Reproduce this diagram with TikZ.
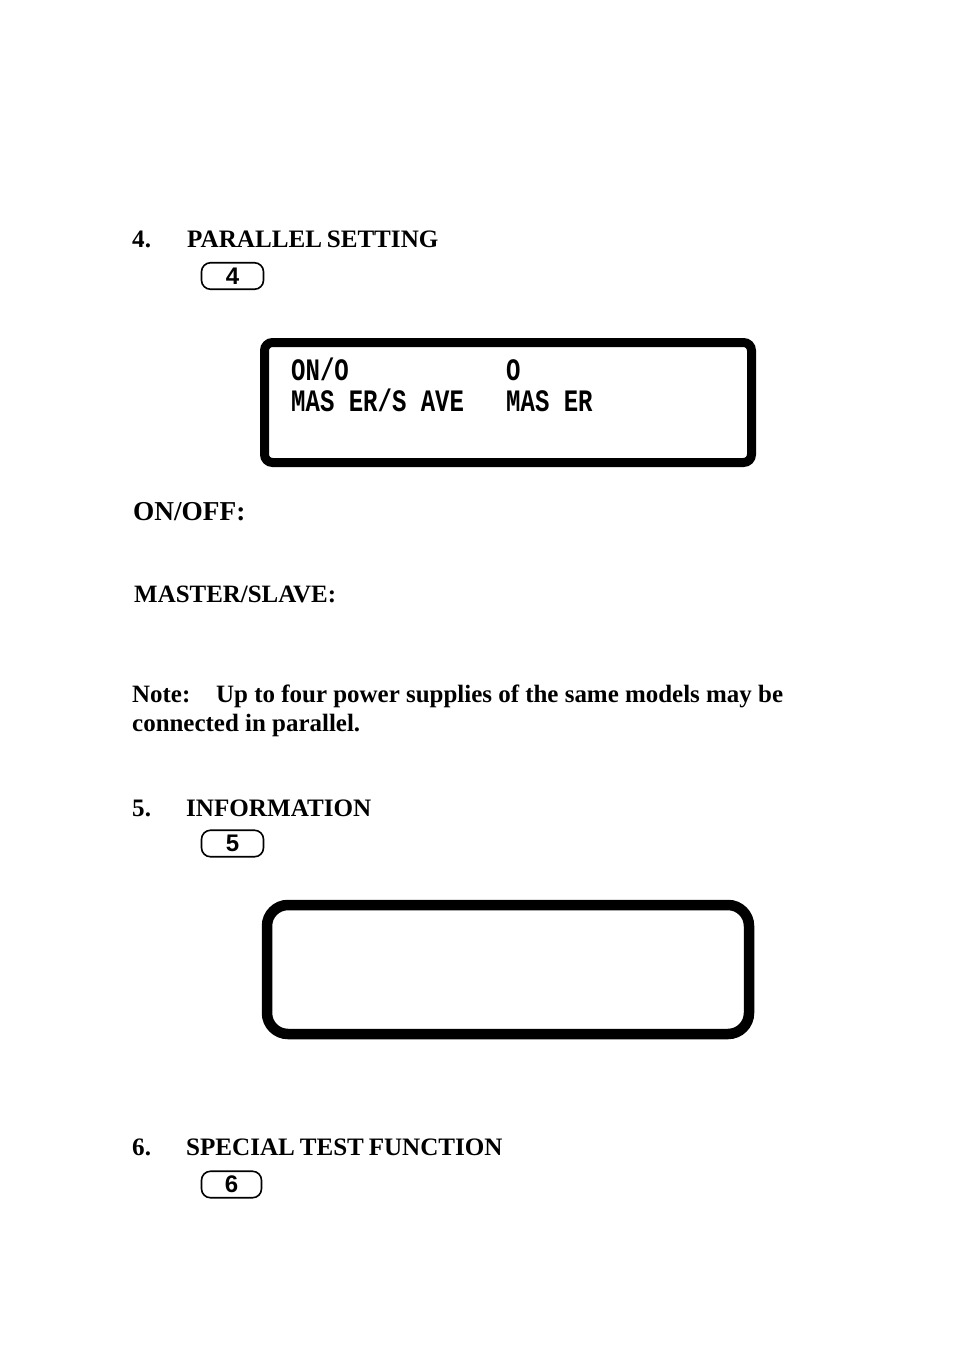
\documentclass[tikz,border=0pt]{standalone}
\usepackage{fontspec}
\setmainfont{Liberation Serif}
\newfontfamily\keyfont{Liberation Sans}
\newfontfamily\lcdfont{Liberation Mono}
\newcommand{\headfont}{\fontsize{25.1}{25}\selectfont\bfseries\spaceskip 4.8pt\relax}
\tikzset{
    heading/.style={anchor=base west, inner sep=0pt, font=\headfont},
    notetext/.style={anchor=base west, inner sep=0pt, font=\fontsize{24.95}{25}\selectfont\bfseries},
    keybox/.style={draw, line width=1.6pt, rounded corners=9pt, inner sep=0pt, minimum height=26.5pt, font=\fontsize{24}{24}\selectfont\keyfont\bfseries},
    lcdbox/.style={draw, rounded corners=8pt, inner sep=0pt, line width=9pt, minimum width=487pt, minimum height=120pt},
    infobox/.style={draw, rounded corners=21pt, inner sep=0pt, line width=10.5pt, minimum width=482pt, minimum height=129pt},
    lcdtext/.style={anchor=base west, inner sep=0pt, transform shape, yscale=1.3, font=\fontsize{24}{24}\selectfont\lcdfont\bfseries}
}
\begin{document}
\begin{tikzpicture}[x=1pt, y=-1pt]
        \useasboundingbox (0, 0) rectangle (954, 1354);
        \begin{scope}
            \node [heading] (num4) at (132, 247) {4.};
            \node [heading] (head4) at (187, 247) {PARALLEL SETTING};
            \node [keybox, minimum width=62pt] (key4) at (232.5, 276) {4};
            \node [lcdbox] (lcd4) at (508, 402.5) {};
            \node [lcdtext] (lcd4a) at (291, 380) {ON/O};
            \node [lcdtext] (lcd4b) at (506, 380) {O};
            \node [lcdtext] (lcd4c) at (291, 411) {MAS ER/S AVE};
            \node [lcdtext] (lcd4d) at (506, 411) {MAS ER};
            \node [anchor=base west, inner sep=0pt, font=\fontsize{27.3}{28}\selectfont\bfseries] (onoff) at (133, 520) {ON/OFF:};
            \node [notetext] (master) at (134, 602) {MASTER/SLAVE:};
            \node [notetext] (notea) at (132, 702) {Note:};
            \node [notetext] (noteb) at (216, 702) {Up to four power supplies of the same models may be};
            \node [notetext] (notec) at (132, 731) {connected in parallel.};
        \end{scope}
        \begin{scope}
            \node [heading] (num5) at (132, 816) {5.};
            \node [heading] (head5) at (186, 816) {INFORMATION};
            \node [keybox, minimum width=62pt] (key5) at (232.5, 843.5) {5};
            \node [infobox] (lcd5) at (508, 969.5) {};
        \end{scope}
        \begin{scope}
            \node [heading] (num6) at (132, 1155) {6.};
            \node [heading] (head6) at (186, 1155) {SPECIAL TEST FUNCTION};
            \node [keybox, minimum width=60pt] (key6) at (231.5, 1184.5) {6};
        \end{scope}
    \end{tikzpicture}
\end{document}
